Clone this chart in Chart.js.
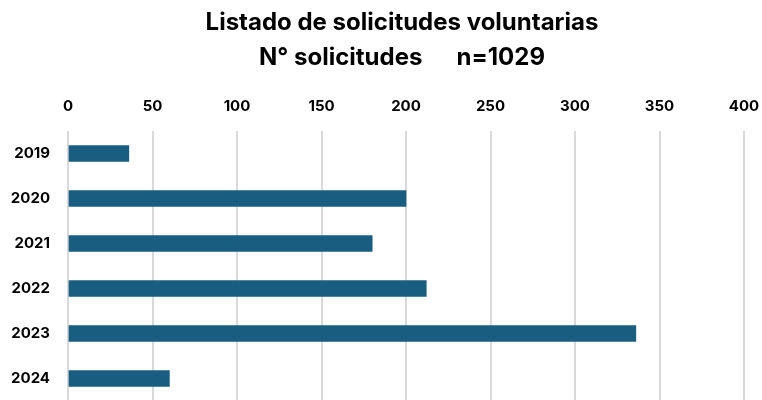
<!DOCTYPE html>
<html>
<head>
<meta charset="utf-8">
<script src="https://cdn.jsdelivr.net/npm/chart.js@4"></script>
<style>
html,body{margin:0;padding:0;background:#fff;overflow:hidden;}
#wrap{position:relative;width:762px;height:410px;}
canvas{display:block;}
</style>
</head>
<body>
<div id="wrap"><canvas id="c"></canvas></div>
<script>
const categories = ["2019","2020","2021","2022","2023","2024"];
const solicitudes = [36, 200, 180, 212, 336, 60];
const titleLines = ["Listado de solicitudes voluntarias", "N° solicitudes      n=1029"];

const titlePlugin = {
  id: 'customTitle',
  afterDraw(chart) {
    const ctx = chart.ctx;
    ctx.save();
    ctx.fillStyle = '#000';
    ctx.font = 'bold 24px Inter';
    ctx.textAlign = 'center';
    ctx.textBaseline = 'middle';
    ctx.fillText(titleLines[0], 402, 23);
    ctx.fillText(titleLines[1], 402, 58);
    ctx.restore();
  }
};

new Chart(document.getElementById('c'), {
  type: 'bar',
  data: {
    labels: categories,
    datasets: [{
      data: solicitudes,
      backgroundColor: '#195e80',
      borderWidth: 0,
      barThickness: 16
    }]
  },
  plugins: [titlePlugin],
  options: {
    indexAxis: 'y',
    responsive: true,
    maintainAspectRatio: false,
    animation: false,
    layout: { padding: { left: 0, right: 18, top: 76, bottom: 0 } },
    plugins: {
      legend: { display: false },
      tooltip: { enabled: false },
      title: { display: false }
    },
    scales: {
      x: {
        position: 'top',
        min: 0, max: 400,
        ticks: { stepSize: 50, color: '#000', padding: 0, font: { family: 'Inter', size: 15, weight: 'bold' } },
        grid: { color: '#d9d9d9', lineWidth: 2, drawTicks: true, tickLength: 16, tickColor: 'rgba(0,0,0,0)' },
        border: { display: false },
        afterFit: s => { s.height = 55; }
      },
      y: {
        ticks: { color: '#000', padding: 0, font: { family: 'Inter', size: 15, weight: 'bold' } },
        grid: { display: true, drawOnChartArea: false, drawTicks: true, tickLength: 18, color: 'rgba(0,0,0,0)', tickColor: 'rgba(0,0,0,0)' },
        border: { display: false },
        afterFit: s => { s.width = 68; }
      }
    }
  }
});
</script>
</body>
</html>
